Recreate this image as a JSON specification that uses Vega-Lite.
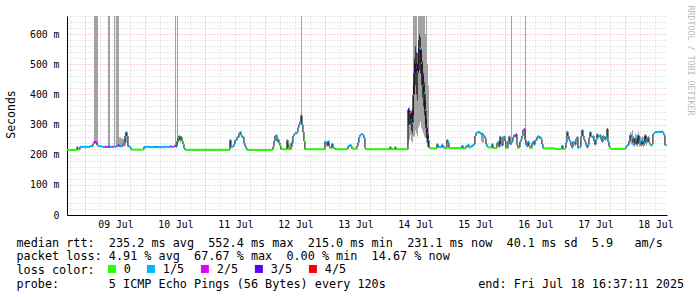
{
"$schema": "https://vega.github.io/schema/vega-lite/v6.json",
"width": 600, "height": 199,
"autosize": {"type": "none"},
"padding": {"left": 67, "top": 16, "right": 30, "bottom": 82},
"background": "white",
"config": {"view": {"stroke": null}},
"data": {"format": {"parse": {"t": "date"}}, "values": [
{"t":"2025-07-08T16:36","m":216,"l":"0"},
{"t":"2025-07-08T20:12","m":216,"l":"0"},
{"t":"2025-07-08T20:36","m":225,"l":"1/5"},
{"t":"2025-07-08T21:00","m":217,"l":"0"},
{"t":"2025-07-08T21:48","m":226,"l":"1/5"},
{"t":"2025-07-08T23:48","m":226,"l":"1/5"},
{"t":"2025-07-09T01:48","m":228,"l":"1/5"},
{"t":"2025-07-09T03:00","m":236,"l":"1/5"},
{"t":"2025-07-09T03:24","m":243,"l":"2/5","lo":238,"hi":700},
{"t":"2025-07-09T03:48","m":243,"l":"2/5","lo":236,"hi":700},
{"t":"2025-07-09T04:12","m":240,"l":"2/5","lo":232,"hi":700},
{"t":"2025-07-09T04:36","m":233,"l":"1/5","lo":228,"hi":700},
{"t":"2025-07-09T05:00","m":230,"l":"1/5"},
{"t":"2025-07-09T05:24","m":228,"l":"1/5"},
{"t":"2025-07-09T06:36","m":226,"l":"1/5"},
{"t":"2025-07-09T07:48","m":226,"l":"2/5"},
{"t":"2025-07-09T08:36","m":226,"l":"1/5"},
{"t":"2025-07-09T09:00","m":226,"l":"2/5","lo":224,"hi":700},
{"t":"2025-07-09T09:24","m":226,"l":"2/5","lo":224,"hi":700},
{"t":"2025-07-09T09:48","m":226,"l":"1/5"},
{"t":"2025-07-09T10:36","m":226,"l":"2/5"},
{"t":"2025-07-09T11:00","m":226,"l":"1/5"},
{"t":"2025-07-09T11:24","m":227,"l":"1/5","lo":224,"hi":700},
{"t":"2025-07-09T11:48","m":227,"l":"1/5"},
{"t":"2025-07-09T12:12","m":228,"l":"1/5","lo":224,"hi":700},
{"t":"2025-07-09T12:36","m":230,"l":"1/5","lo":224,"hi":700},
{"t":"2025-07-09T13:00","m":232,"l":"2/5","lo":226,"hi":700},
{"t":"2025-07-09T13:24","m":230,"l":"2/5","lo":226,"hi":258},
{"t":"2025-07-09T13:48","m":228,"l":"1/5","lo":225,"hi":258},
{"t":"2025-07-09T14:12","m":229,"l":"1/5","lo":225,"hi":252},
{"t":"2025-07-09T14:36","m":230,"l":"1/5","lo":226,"hi":255},
{"t":"2025-07-09T15:00","m":234,"l":"1/5","lo":226,"hi":250},
{"t":"2025-07-09T15:24","m":240,"l":"1/5","lo":228,"hi":250},
{"t":"2025-07-09T15:48","m":262,"l":"1/5","lo":230,"hi":270},
{"t":"2025-07-09T16:12","m":275,"l":"1/5","lo":240,"hi":278},
{"t":"2025-07-09T16:36","m":262,"l":"1/5"},
{"t":"2025-07-09T17:00","m":228,"l":"1/5"},
{"t":"2025-07-09T17:48","m":224,"l":"1/5"},
{"t":"2025-07-09T18:12","m":217,"l":"0"},
{"t":"2025-07-09T23:24","m":226,"l":"1/5"},
{"t":"2025-07-10T01:48","m":225,"l":"1/5"},
{"t":"2025-07-10T03:48","m":226,"l":"2/5"},
{"t":"2025-07-10T04:12","m":225,"l":"1/5"},
{"t":"2025-07-10T07:48","m":226,"l":"1/5"},
{"t":"2025-07-10T09:48","m":227,"l":"2/5"},
{"t":"2025-07-10T10:36","m":226,"l":"1/5"},
{"t":"2025-07-10T11:24","m":228,"l":"2/5"},
{"t":"2025-07-10T11:48","m":232,"l":"1/5","lo":226,"hi":700},
{"t":"2025-07-10T12:12","m":226,"l":"1/5"},
{"t":"2025-07-10T12:36","m":245,"l":"1/5","lo":232,"hi":700},
{"t":"2025-07-10T13:00","m":255,"l":"0","lo":240,"hi":262},
{"t":"2025-07-10T13:24","m":262,"l":"0","lo":245,"hi":266},
{"t":"2025-07-10T13:48","m":250,"l":"1/5","lo":240,"hi":262},
{"t":"2025-07-10T14:12","m":258,"l":"1/5"},
{"t":"2025-07-10T14:36","m":245,"l":"0"},
{"t":"2025-07-10T15:00","m":235,"l":"0"},
{"t":"2025-07-10T15:24","m":222,"l":"1/5"},
{"t":"2025-07-10T15:48","m":216,"l":"0"},
{"t":"2025-07-11T09:48","m":249,"l":"1/5"},
{"t":"2025-07-11T10:12","m":226,"l":"1/5"},
{"t":"2025-07-11T11:00","m":228,"l":"1/5"},
{"t":"2025-07-11T11:24","m":235,"l":"1/5"},
{"t":"2025-07-11T11:48","m":248,"l":"1/5"},
{"t":"2025-07-11T12:36","m":258,"l":"1/5"},
{"t":"2025-07-11T13:24","m":270,"l":"1/5"},
{"t":"2025-07-11T13:48","m":275,"l":"1/5"},
{"t":"2025-07-11T14:12","m":265,"l":"1/5"},
{"t":"2025-07-11T14:36","m":258,"l":"1/5"},
{"t":"2025-07-11T15:24","m":238,"l":"1/5"},
{"t":"2025-07-11T15:48","m":228,"l":"1/5"},
{"t":"2025-07-11T16:12","m":222,"l":"1/5"},
{"t":"2025-07-11T16:36","m":216,"l":"0"},
{"t":"2025-07-12T03:00","m":226,"l":"1/5"},
{"t":"2025-07-12T03:24","m":245,"l":"1/5"},
{"t":"2025-07-12T03:48","m":262,"l":"1/5"},
{"t":"2025-07-12T04:12","m":265,"l":"1/5"},
{"t":"2025-07-12T04:36","m":245,"l":"1/5"},
{"t":"2025-07-12T05:00","m":250,"l":"1/5"},
{"t":"2025-07-12T05:24","m":239,"l":"1/5"},
{"t":"2025-07-12T05:48","m":230,"l":"0"},
{"t":"2025-07-12T06:12","m":218,"l":"0"},
{"t":"2025-07-12T08:36","m":248,"l":"1/5"},
{"t":"2025-07-12T09:00","m":220,"l":"0","lo":217,"hi":232},
{"t":"2025-07-12T09:24","m":218,"l":"0","lo":216,"hi":236},
{"t":"2025-07-12T09:48","m":218,"l":"0","lo":216,"hi":240},
{"t":"2025-07-12T10:12","m":225,"l":"0","lo":218,"hi":245},
{"t":"2025-07-12T10:36","m":238,"l":"1/5"},
{"t":"2025-07-12T11:00","m":262,"l":"1/5"},
{"t":"2025-07-12T11:24","m":268,"l":"1/5"},
{"t":"2025-07-12T11:48","m":272,"l":"1/5"},
{"t":"2025-07-12T12:12","m":270,"l":"1/5"},
{"t":"2025-07-12T12:36","m":275,"l":"1/5"},
{"t":"2025-07-12T13:00","m":290,"l":"1/5"},
{"t":"2025-07-12T13:24","m":300,"l":"1/5"},
{"t":"2025-07-12T13:48","m":310,"l":"1/5"},
{"t":"2025-07-12T14:12","m":330,"l":"2/5","lo":300,"hi":700},
{"t":"2025-07-12T14:36","m":300,"l":"1/5"},
{"t":"2025-07-12T15:00","m":275,"l":"1/5"},
{"t":"2025-07-12T15:24","m":245,"l":"0"},
{"t":"2025-07-12T15:48","m":218,"l":"0"},
{"t":"2025-07-12T23:48","m":243,"l":"1/5"},
{"t":"2025-07-13T00:12","m":240,"l":"1/5"},
{"t":"2025-07-13T00:36","m":230,"l":"1/5"},
{"t":"2025-07-13T01:00","m":245,"l":"1/5"},
{"t":"2025-07-13T01:24","m":228,"l":"1/5"},
{"t":"2025-07-13T01:48","m":222,"l":"0"},
{"t":"2025-07-13T02:36","m":236,"l":"1/5"},
{"t":"2025-07-13T03:00","m":222,"l":"0"},
{"t":"2025-07-13T03:48","m":220,"l":"1/5"},
{"t":"2025-07-13T04:12","m":218,"l":"0"},
{"t":"2025-07-13T09:00","m":228,"l":"1/5"},
{"t":"2025-07-13T09:48","m":233,"l":"1/5"},
{"t":"2025-07-13T10:12","m":228,"l":"1/5"},
{"t":"2025-07-13T10:36","m":220,"l":"0"},
{"t":"2025-07-13T12:36","m":228,"l":"1/5"},
{"t":"2025-07-13T13:00","m":240,"l":"1/5"},
{"t":"2025-07-13T13:24","m":258,"l":"1/5"},
{"t":"2025-07-13T13:48","m":265,"l":"1/5"},
{"t":"2025-07-13T14:12","m":268,"l":"1/5"},
{"t":"2025-07-13T14:36","m":268,"l":"1/5"},
{"t":"2025-07-13T15:00","m":265,"l":"1/5"},
{"t":"2025-07-13T15:24","m":255,"l":"1/5"},
{"t":"2025-07-13T15:48","m":222,"l":"1/5"},
{"t":"2025-07-13T16:12","m":218,"l":"0"},
{"t":"2025-07-14T01:48","m":226,"l":"0"},
{"t":"2025-07-14T02:12","m":218,"l":"0"},
{"t":"2025-07-14T03:48","m":225,"l":"1/5"},
{"t":"2025-07-14T04:12","m":218,"l":"0"},
{"t":"2025-07-14T09:00","m":348,"l":"3/5","lo":240,"hi":355,"ilo":300,"ihi":355},
{"t":"2025-07-14T09:24","m":340,"l":"2/5","lo":250,"hi":360,"ilo":300,"ihi":350},
{"t":"2025-07-14T09:48","m":338,"l":"2/5","lo":265,"hi":345,"ilo":300,"ihi":345},
{"t":"2025-07-14T10:12","m":315,"l":"2/5","lo":245,"hi":350,"ilo":280,"ihi":340},
{"t":"2025-07-14T10:36","m":305,"l":"1/5","lo":240,"hi":355,"ilo":270,"ihi":345},
{"t":"2025-07-14T11:00","m":398,"l":"2/5","lo":260,"hi":700,"ilo":330,"ihi":430},
{"t":"2025-07-14T11:24","m":471,"l":"3/5","lo":260,"hi":700,"ilo":400,"ihi":520},
{"t":"2025-07-14T11:48","m":504,"l":"4/5","lo":280,"hi":700,"ilo":430,"ihi":560},
{"t":"2025-07-14T12:12","m":490,"l":"2/5","lo":270,"hi":700,"ilo":400,"ihi":540},
{"t":"2025-07-14T12:36","m":475,"l":"1/5","lo":260,"hi":500,"ilo":380,"ihi":500},
{"t":"2025-07-14T13:00","m":537,"l":"3/5","lo":290,"hi":700,"ilo":470,"ihi":580},
{"t":"2025-07-14T13:24","m":554,"l":"1/5","lo":300,"hi":700,"ilo":480,"ihi":600},
{"t":"2025-07-14T13:48","m":550,"l":"1/5","lo":310,"hi":700,"ilo":470,"ihi":590},
{"t":"2025-07-14T14:12","m":504,"l":"1/5","lo":290,"hi":700,"ilo":430,"ihi":550},
{"t":"2025-07-14T14:36","m":464,"l":"3/5","lo":280,"hi":700,"ilo":390,"ihi":510},
{"t":"2025-07-14T15:00","m":431,"l":"2/5","lo":270,"hi":700,"ilo":360,"ihi":470},
{"t":"2025-07-14T15:24","m":404,"l":"1/5","lo":260,"hi":700,"ilo":330,"ihi":440},
{"t":"2025-07-14T15:48","m":348,"l":"1/5","lo":255,"hi":600,"ilo":300,"ihi":380},
{"t":"2025-07-14T16:12","m":288,"l":"2/5","lo":240,"hi":700,"ilo":255,"ihi":320},
{"t":"2025-07-14T16:36","m":272,"l":"2/5","lo":225,"hi":500,"ilo":240,"ihi":290},
{"t":"2025-07-14T17:00","m":249,"l":"1/5","lo":222,"hi":430,"ilo":230,"ihi":260},
{"t":"2025-07-14T17:24","m":225,"l":"1/5"},
{"t":"2025-07-14T17:48","m":221,"l":"0"},
{"t":"2025-07-14T20:36","m":235,"l":"1/5"},
{"t":"2025-07-14T21:00","m":226,"l":"1/5"},
{"t":"2025-07-14T22:36","m":233,"l":"1/5"},
{"t":"2025-07-14T23:00","m":224,"l":"1/5"},
{"t":"2025-07-14T23:48","m":221,"l":"0"},
{"t":"2025-07-15T00:36","m":249,"l":"1/5"},
{"t":"2025-07-15T01:00","m":240,"l":"1/5"},
{"t":"2025-07-15T01:24","m":222,"l":"0"},
{"t":"2025-07-15T06:36","m":230,"l":"1/5"},
{"t":"2025-07-15T07:00","m":221,"l":"0"},
{"t":"2025-07-15T08:12","m":228,"l":"1/5"},
{"t":"2025-07-15T09:00","m":233,"l":"1/5"},
{"t":"2025-07-15T09:24","m":224,"l":"0"},
{"t":"2025-07-15T10:12","m":228,"l":"1/5"},
{"t":"2025-07-15T11:00","m":233,"l":"1/5"},
{"t":"2025-07-15T11:24","m":235,"l":"1/5"},
{"t":"2025-07-15T11:48","m":262,"l":"1/5"},
{"t":"2025-07-15T12:12","m":272,"l":"1/5"},
{"t":"2025-07-15T12:36","m":275,"l":"1/5"},
{"t":"2025-07-15T13:00","m":272,"l":"1/5"},
{"t":"2025-07-15T13:24","m":276,"l":"1/5"},
{"t":"2025-07-15T13:48","m":272,"l":"1/5"},
{"t":"2025-07-15T14:12","m":268,"l":"1/5","lo":245,"hi":272},
{"t":"2025-07-15T14:36","m":270,"l":"1/5","lo":240,"hi":272},
{"t":"2025-07-15T15:00","m":265,"l":"1/5","lo":240,"hi":268},
{"t":"2025-07-15T15:24","m":262,"l":"1/5"},
{"t":"2025-07-15T15:48","m":255,"l":"1/5"},
{"t":"2025-07-15T16:12","m":235,"l":"1/5"},
{"t":"2025-07-15T16:36","m":227,"l":"0"},
{"t":"2025-07-15T17:00","m":224,"l":"0"},
{"t":"2025-07-15T18:36","m":235,"l":"1/5"},
{"t":"2025-07-15T19:00","m":222,"l":"0"},
{"t":"2025-07-15T20:36","m":238,"l":"1/5"},
{"t":"2025-07-15T21:00","m":243,"l":"1/5"},
{"t":"2025-07-15T21:24","m":226,"l":"1/5"},
{"t":"2025-07-15T21:48","m":260,"l":"1/5"},
{"t":"2025-07-15T22:12","m":235,"l":"1/5"},
{"t":"2025-07-15T22:36","m":230,"l":"1/5"},
{"t":"2025-07-15T23:00","m":258,"l":"1/5"},
{"t":"2025-07-15T23:24","m":260,"l":"1/5"},
{"t":"2025-07-15T23:48","m":245,"l":"1/5"},
{"t":"2025-07-16T00:12","m":222,"l":"0"},
{"t":"2025-07-16T01:00","m":245,"l":"1/5"},
{"t":"2025-07-16T01:24","m":260,"l":"1/5"},
{"t":"2025-07-16T01:48","m":235,"l":"1/5"},
{"t":"2025-07-16T02:12","m":240,"l":"1/5","lo":232,"hi":700},
{"t":"2025-07-16T02:36","m":243,"l":"1/5"},
{"t":"2025-07-16T03:00","m":258,"l":"1/5"},
{"t":"2025-07-16T03:24","m":265,"l":"1/5"},
{"t":"2025-07-16T03:48","m":260,"l":"1/5"},
{"t":"2025-07-16T04:12","m":268,"l":"2/5"},
{"t":"2025-07-16T04:36","m":233,"l":"1/5"},
{"t":"2025-07-16T05:00","m":222,"l":"0"},
{"t":"2025-07-16T05:24","m":225,"l":"1/5"},
{"t":"2025-07-16T05:48","m":243,"l":"1/5"},
{"t":"2025-07-16T06:12","m":250,"l":"1/5"},
{"t":"2025-07-16T06:36","m":262,"l":"1/5"},
{"t":"2025-07-16T07:00","m":282,"l":"1/5"},
{"t":"2025-07-16T07:24","m":285,"l":"2/5"},
{"t":"2025-07-16T07:48","m":250,"l":"1/5","lo":240,"hi":700},
{"t":"2025-07-16T08:12","m":232,"l":"1/5"},
{"t":"2025-07-16T08:36","m":227,"l":"1/5"},
{"t":"2025-07-16T09:00","m":243,"l":"1/5"},
{"t":"2025-07-16T09:24","m":230,"l":"0"},
{"t":"2025-07-16T09:48","m":222,"l":"0"},
{"t":"2025-07-16T10:36","m":238,"l":"1/5"},
{"t":"2025-07-16T11:00","m":243,"l":"1/5"},
{"t":"2025-07-16T11:24","m":233,"l":"1/5"},
{"t":"2025-07-16T11:48","m":248,"l":"1/5"},
{"t":"2025-07-16T12:36","m":258,"l":"1/5"},
{"t":"2025-07-16T13:00","m":262,"l":"1/5"},
{"t":"2025-07-16T13:24","m":256,"l":"1/5"},
{"t":"2025-07-16T13:48","m":258,"l":"1/5"},
{"t":"2025-07-16T14:12","m":252,"l":"1/5"},
{"t":"2025-07-16T14:36","m":235,"l":"1/5"},
{"t":"2025-07-16T15:00","m":221,"l":"0"},
{"t":"2025-07-16T19:48","m":219,"l":"0"},
{"t":"2025-07-16T22:36","m":230,"l":"1/5"},
{"t":"2025-07-16T23:00","m":219,"l":"0"},
{"t":"2025-07-16T23:48","m":222,"l":"1/5"},
{"t":"2025-07-17T00:12","m":240,"l":"1/5"},
{"t":"2025-07-17T00:36","m":276,"l":"1/5"},
{"t":"2025-07-17T01:00","m":262,"l":"1/5"},
{"t":"2025-07-17T01:24","m":250,"l":"1/5"},
{"t":"2025-07-17T01:48","m":243,"l":"1/5"},
{"t":"2025-07-17T02:12","m":230,"l":"1/5"},
{"t":"2025-07-17T02:36","m":224,"l":"1/5"},
{"t":"2025-07-17T03:00","m":243,"l":"1/5"},
{"t":"2025-07-17T03:24","m":240,"l":"1/5"},
{"t":"2025-07-17T03:48","m":233,"l":"1/5"},
{"t":"2025-07-17T04:12","m":252,"l":"1/5"},
{"t":"2025-07-17T04:36","m":258,"l":"1/5"},
{"t":"2025-07-17T05:00","m":222,"l":"1/5"},
{"t":"2025-07-17T05:24","m":225,"l":"0"},
{"t":"2025-07-17T05:48","m":226,"l":"1/5"},
{"t":"2025-07-17T06:12","m":260,"l":"1/5"},
{"t":"2025-07-17T06:36","m":282,"l":"1/5"},
{"t":"2025-07-17T07:00","m":262,"l":"1/5"},
{"t":"2025-07-17T07:24","m":250,"l":"1/5"},
{"t":"2025-07-17T07:48","m":243,"l":"1/5"},
{"t":"2025-07-17T08:12","m":232,"l":"1/5"},
{"t":"2025-07-17T08:36","m":224,"l":"1/5"},
{"t":"2025-07-17T09:00","m":233,"l":"1/5"},
{"t":"2025-07-17T09:24","m":255,"l":"1/5"},
{"t":"2025-07-17T09:48","m":275,"l":"1/5"},
{"t":"2025-07-17T10:12","m":262,"l":"1/5"},
{"t":"2025-07-17T10:36","m":258,"l":"1/5"},
{"t":"2025-07-17T11:00","m":262,"l":"1/5"},
{"t":"2025-07-17T11:24","m":245,"l":"1/5"},
{"t":"2025-07-17T11:48","m":233,"l":"0"},
{"t":"2025-07-17T12:12","m":250,"l":"1/5"},
{"t":"2025-07-17T12:36","m":268,"l":"1/5"},
{"t":"2025-07-17T13:00","m":258,"l":"1/5"},
{"t":"2025-07-17T13:24","m":262,"l":"1/5"},
{"t":"2025-07-17T13:48","m":265,"l":"1/5"},
{"t":"2025-07-17T14:12","m":250,"l":"1/5"},
{"t":"2025-07-17T14:36","m":243,"l":"1/5"},
{"t":"2025-07-17T15:00","m":262,"l":"1/5"},
{"t":"2025-07-17T15:24","m":258,"l":"1/5"},
{"t":"2025-07-17T15:48","m":250,"l":"1/5"},
{"t":"2025-07-17T16:12","m":260,"l":"1/5"},
{"t":"2025-07-17T16:36","m":285,"l":"2/5"},
{"t":"2025-07-17T17:00","m":243,"l":"1/5"},
{"t":"2025-07-17T17:24","m":228,"l":"1/5"},
{"t":"2025-07-17T17:48","m":222,"l":"0"},
{"t":"2025-07-17T18:12","m":219,"l":"0"},
{"t":"2025-07-17T23:48","m":220,"l":"0"},
{"t":"2025-07-18T00:12","m":226,"l":"1/5"},
{"t":"2025-07-18T00:36","m":232,"l":"1/5"},
{"t":"2025-07-18T01:24","m":245,"l":"1/5"},
{"t":"2025-07-18T01:48","m":265,"l":"1/5","lo":240,"hi":275},
{"t":"2025-07-18T02:12","m":258,"l":"1/5","lo":235,"hi":270},
{"t":"2025-07-18T02:36","m":255,"l":"1/5","lo":232,"hi":282},
{"t":"2025-07-18T03:00","m":240,"l":"1/5","lo":228,"hi":262},
{"t":"2025-07-18T03:24","m":235,"l":"1/5","lo":226,"hi":255},
{"t":"2025-07-18T03:48","m":255,"l":"1/5","lo":232,"hi":270},
{"t":"2025-07-18T04:12","m":250,"l":"1/5","lo":230,"hi":265},
{"t":"2025-07-18T04:36","m":235,"l":"1/5","lo":226,"hi":258},
{"t":"2025-07-18T05:00","m":265,"l":"1/5","lo":235,"hi":275},
{"t":"2025-07-18T05:24","m":245,"l":"1/5","lo":226,"hi":262},
{"t":"2025-07-18T05:48","m":240,"l":"1/5","lo":228,"hi":260},
{"t":"2025-07-18T06:12","m":233,"l":"0","lo":226,"hi":255},
{"t":"2025-07-18T06:36","m":245,"l":"1/5","lo":230,"hi":260},
{"t":"2025-07-18T07:00","m":235,"l":"1/5","lo":226,"hi":258},
{"t":"2025-07-18T07:24","m":240,"l":"1/5","lo":228,"hi":262},
{"t":"2025-07-18T07:48","m":265,"l":"1/5","lo":235,"hi":270},
{"t":"2025-07-18T08:12","m":250,"l":"1/5","lo":230,"hi":262},
{"t":"2025-07-18T08:36","m":243,"l":"1/5"},
{"t":"2025-07-18T09:00","m":258,"l":"1/5"},
{"t":"2025-07-18T09:24","m":240,"l":"1/5"},
{"t":"2025-07-18T09:48","m":233,"l":"0"},
{"t":"2025-07-18T10:12","m":230,"l":"0"},
{"t":"2025-07-18T10:36","m":235,"l":"1/5"},
{"t":"2025-07-18T11:00","m":268,"l":"1/5"},
{"t":"2025-07-18T11:24","m":272,"l":"1/5"},
{"t":"2025-07-18T11:48","m":275,"l":"1/5"},
{"t":"2025-07-18T13:00","m":276,"l":"1/5"},
{"t":"2025-07-18T14:12","m":276,"l":"1/5"},
{"t":"2025-07-18T14:36","m":277,"l":"1/5"},
{"t":"2025-07-18T15:00","m":272,"l":"1/5"},
{"t":"2025-07-18T15:24","m":265,"l":"1/5"},
{"t":"2025-07-18T15:48","m":232,"l":"1/5"},
{"t":"2025-07-18T16:12","m":231,"l":"1/5"},
{"t":"2025-07-18T16:36","m":231,"l":"1/5"}
]},
"transform": [
{"window": [{"op": "lead", "field": "t", "as": "t2"}], "sort": [{"field": "t", "order": "ascending"}]},
{"filter": "isValid(datum.t2)"}
],
"resolve": {"axis": {"x": "independent", "y": "independent"}},
"layer": [
{"transform": [{"filter": "isValid(datum.hi)"}],
 "mark": {"type": "bar", "color": "#a0a0a0", "clip": true},
 "encoding": {
  "x": {"field": "t", "type": "temporal",
   "scale": {"domain": [{"year": 2025, "month": 7, "date": 8, "hours": 16, "minutes": 37, "seconds": 11}, {"year": 2025, "month": 7, "date": 18, "hours": 16, "minutes": 37, "seconds": 11}]},
   "axis": {"orient": "bottom", "tickCount": 40, "grid": true, "gridColor": "#d0d0d0", "gridDash": [1, 2], "labels": false, "ticks": false, "domain": false, "title": null}},
  "x2": {"field": "t2"},
  "y": {"field": "lo", "type": "quantitative", "scale": {"domain": [0, 660], "nice": false},
   "axis": {"orient": "left", "values": [20,40,60,80,120,140,160,180,220,240,260,280,320,340,360,380,420,440,460,480,520,540,560,580,620,640,660],
    "grid": true, "gridColor": "#d0d0d0", "gridDash": [1, 2], "labels": false, "ticks": false, "domain": false, "title": null}},
  "y2": {"field": "hi"}
 }
},
{"transform": [{"filter": "isValid(datum.ihi)"}],
 "mark": {"type": "bar", "color": "#383838", "clip": true},
 "encoding": {
  "x": {"field": "t", "type": "temporal", "axis": null},
  "x2": {"field": "t2"},
  "y": {"field": "ilo", "type": "quantitative", "axis": null},
  "y2": {"field": "ihi"}
 }
},
{"mark": {"type": "line", "interpolate": "step-after", "color": "black", "strokeWidth": 1},
 "encoding": {
  "x": {"field": "t", "type": "temporal",
   "axis": {"orient": "bottom", "tickCount": 10, "grid": true, "gridColor": "#f0a8a8", "gridDash": [1, 2], "labels": false, "ticks": false, "domain": false, "title": null}},
  "y": {"field": "m", "type": "quantitative",
   "axis": {"orient": "left", "values": [0,100,200,300,400,500,600],
    "grid": true, "gridColor": "#f0a8a8", "gridDash": [1, 2], "ticks": false, "domainColor": "black",
    "labelExpr": "datum.value === 0 ? '0' : datum.value + ' m'",
    "labelFont": "DejaVu Sans Mono", "labelFontSize": 9.8, "labelColor": "black", "labelPadding": 8,
    "title": "Seconds", "titleFont": "DejaVu Sans Mono", "titleFontSize": 11.5, "titleFontWeight": "normal", "titleColor": "black",
    "titleX": -56, "titleY": 98, "titleAlign": "center", "titleBaseline": "middle", "titleAngle": 270}}
 }
},
{"mark": {"type": "rule", "strokeWidth": 2},
 "encoding": {
  "x": {"field": "t", "type": "temporal",
   "axis": {"orient": "bottom", "tickCount": 20, "grid": false, "ticks": false, "domainColor": "black",
    "labelExpr": "hours(datum.value) === 12 ? timeFormat(datum.value, '%d %b') : ''",
    "labelFont": "DejaVu Sans Mono", "labelFontSize": 9.8, "labelColor": "black", "labelPadding": 4, "labelOverlap": false, "labelFlush": false,
    "title": [
     "median\u00a0rtt:\u00a0\u00a0235.2\u00a0ms\u00a0avg\u00a0\u00a0552.4\u00a0ms\u00a0max\u00a0\u00a0215.0\u00a0ms\u00a0min\u00a0\u00a0231.1\u00a0ms\u00a0now\u00a0\u00a040.1\u00a0ms\u00a0sd\u00a0\u00a05.9\u00a0\u00a0\u00a0am/s",
     "packet\u00a0loss:\u00a04.91\u00a0%\u00a0avg\u00a0\u00a067.67\u00a0%\u00a0max\u00a0\u00a00.00\u00a0%\u00a0min\u00a0\u00a014.67\u00a0%\u00a0now",
     "loss\u00a0color:",
     "probe:\u00a0\u00a0\u00a0\u00a0\u00a0\u00a0\u00a05\u00a0ICMP\u00a0Echo\u00a0Pings\u00a0(56\u00a0Bytes)\u00a0every\u00a0120s\u00a0\u00a0\u00a0\u00a0\u00a0\u00a0\u00a0\u00a0\u00a0\u00a0\u00a0\u00a0\u00a0end:\u00a0Fri\u00a0Jul\u00a018\u00a016:37:11\u00a02025"
    ],
    "titleFont": "DejaVu Sans Mono", "titleFontSize": 11.8, "titleFontWeight": "normal", "titleColor": "black",
    "titleAnchor": "start", "titleAlign": "left", "titleBaseline": "alphabetic", "titleX": -51, "titleY": 31, "titleLineHeight": 13.7}},
  "x2": {"field": "t2"},
  "y": {"field": "m", "type": "quantitative",
   "axis": {"orient": "right", "labels": false, "ticks": false, "domain": false, "grid": false,
    "title": "RRDTOOL / TOBI OETIKER", "titleFont": "DejaVu Sans Mono", "titleFontSize": 8.3, "titleFontWeight": "normal", "titleColor": "#bbbbbb",
    "titleAngle": 90, "titleAlign": "left", "titleBaseline": "middle", "titleX": 22, "titleY": -11}},
  "color": {"field": "l", "type": "nominal",
   "scale": {"domain": ["0", "1/5", "2/5", "3/5", "4/5"], "range": ["#26ff00", "#00b8ff", "#dd00ff", "#5a00ff", "#ff0000"]},
   "legend": {"orient": "none", "legendX": 39, "legendY": 247, "direction": "horizontal", "title": null,
    "symbolType": "square", "symbolSize": 16, "symbolStrokeWidth": 4,
    "labelFont": "DejaVu Sans Mono", "labelFontSize": 11.8, "labelColor": "black", "labelOffset": 6,
    "columnPadding": 9}}
 }
}
]
}
